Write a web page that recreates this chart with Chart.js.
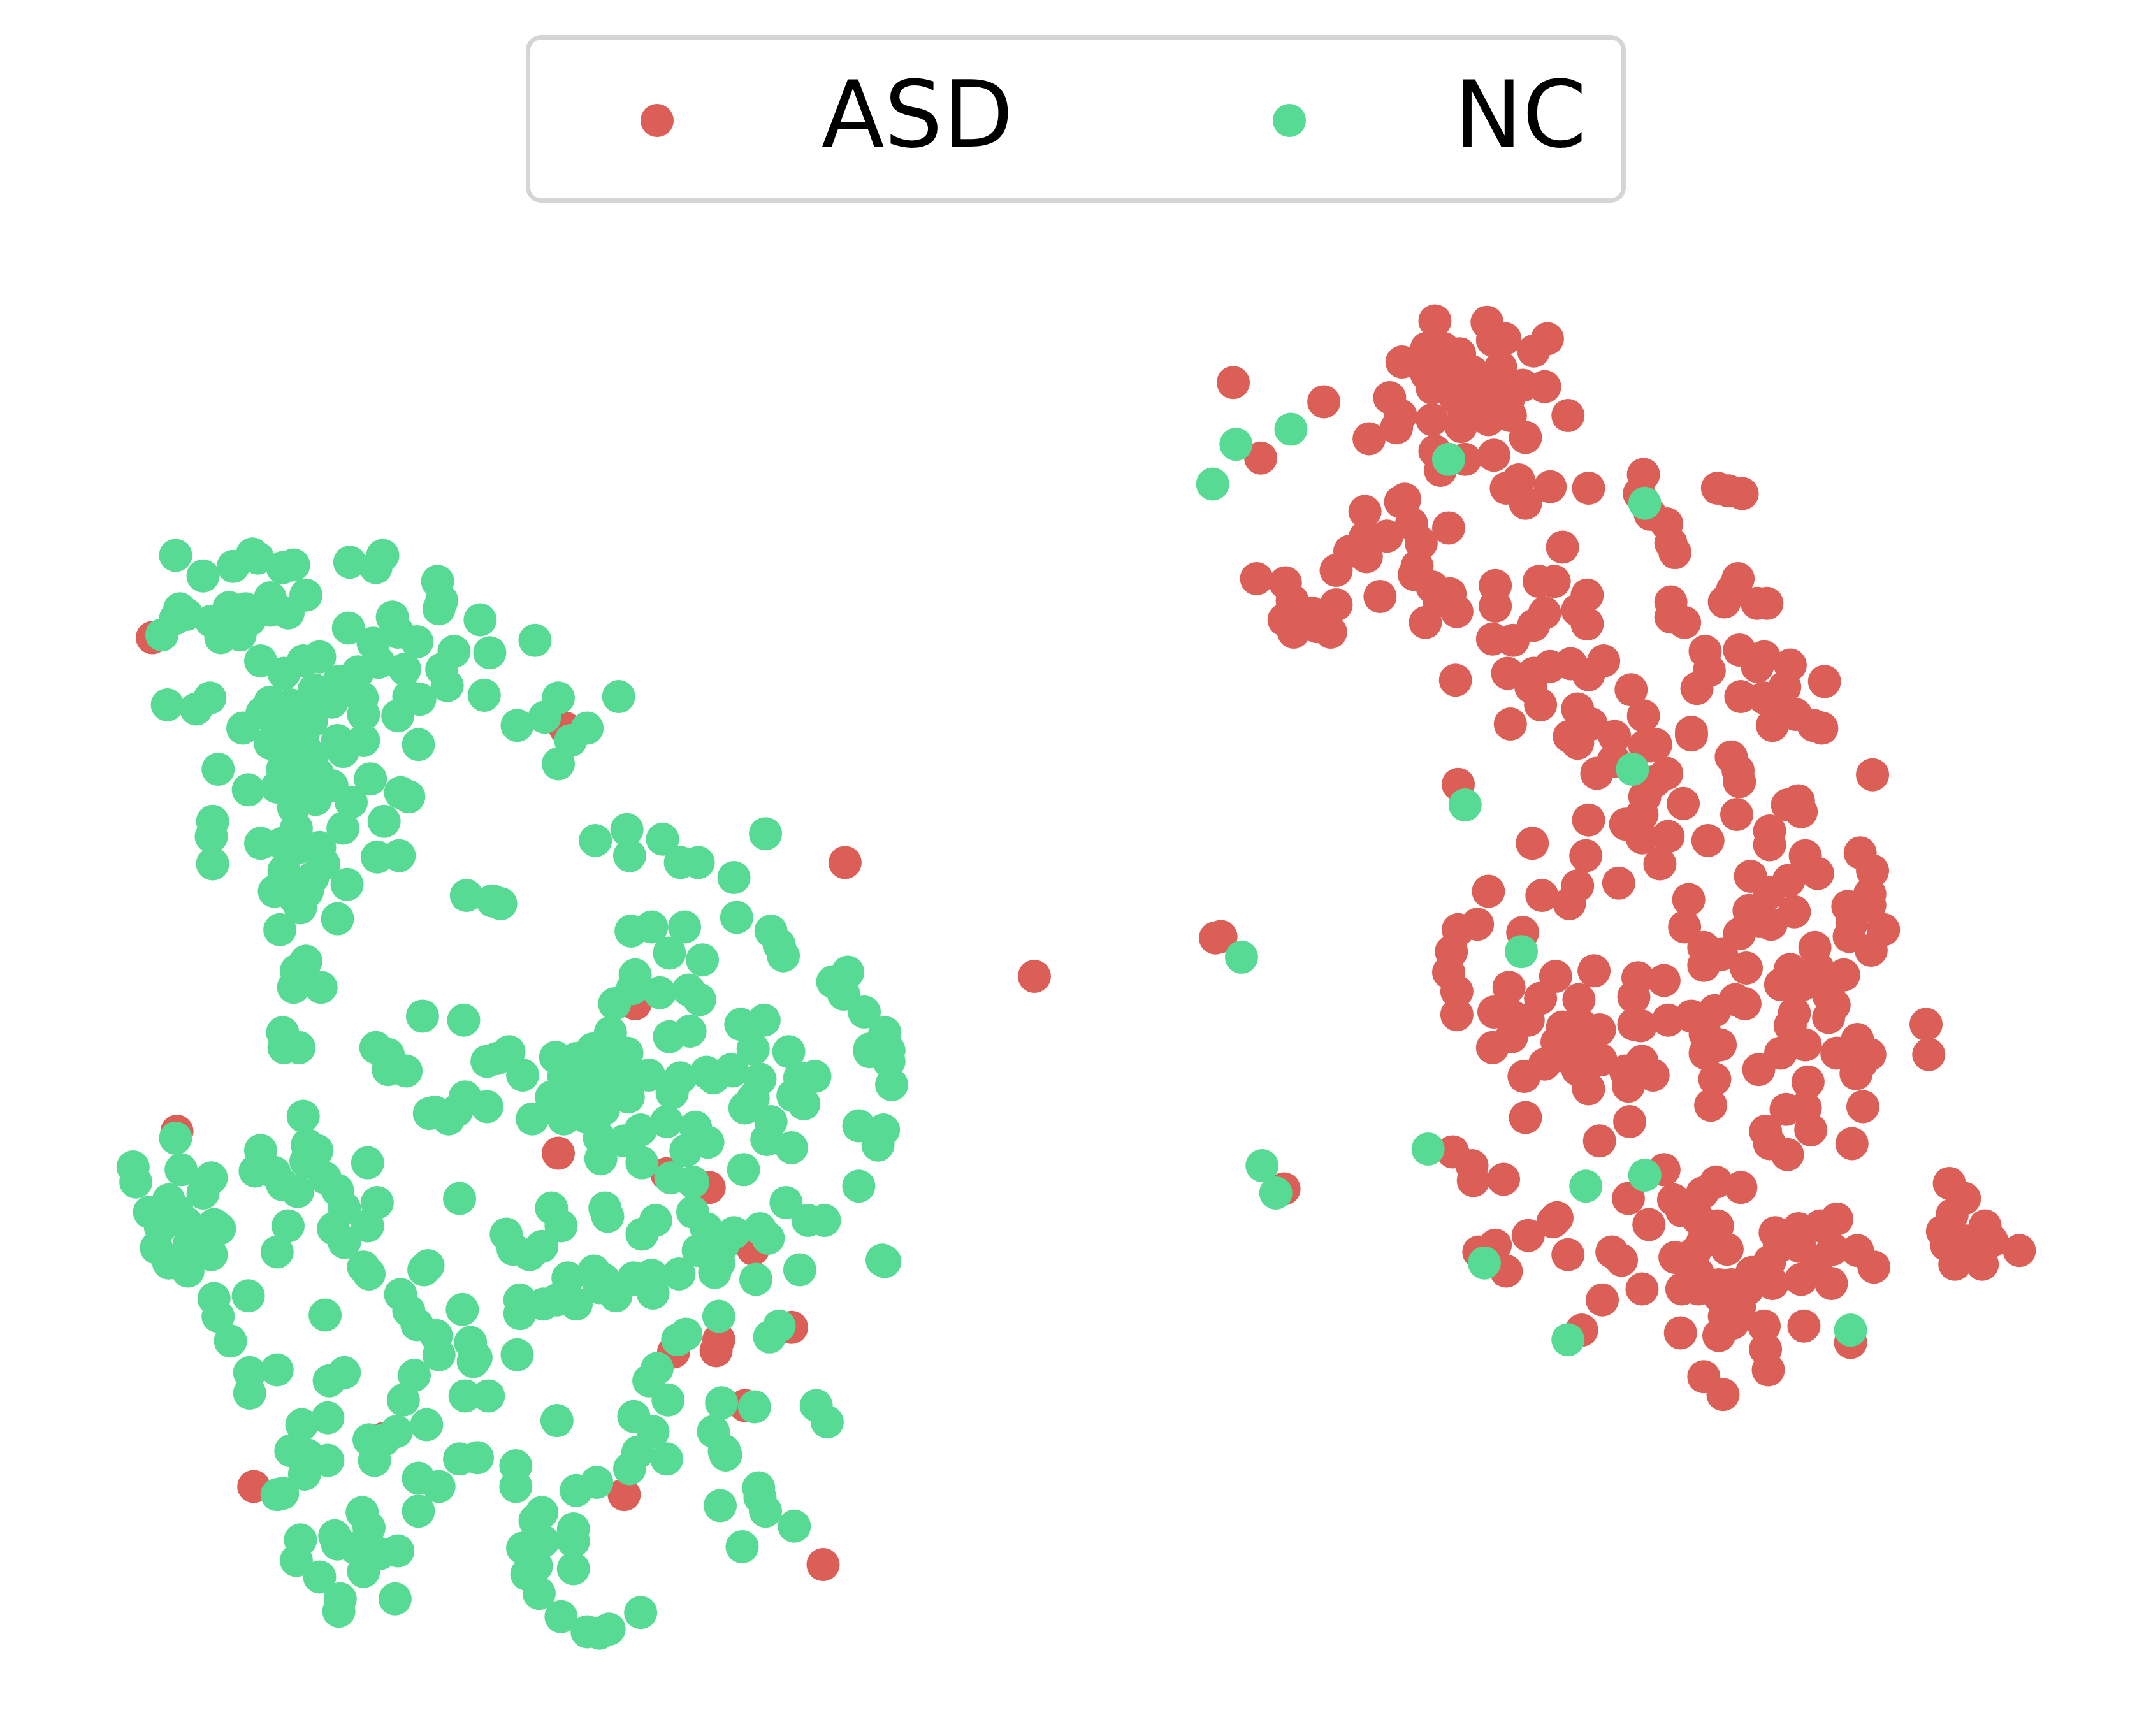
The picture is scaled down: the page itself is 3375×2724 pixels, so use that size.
<!DOCTYPE html>
<html>
<head>
<meta charset="utf-8">
<script src="https://cdn.jsdelivr.net/npm/chart.js@4/dist/chart.umd.min.js"></script>
<style>
  body { margin: 0; background: #fff; }
  #wrap { position: relative; width: 3375px; height: 2724px; }
  #legend { position: absolute; left: 825px; top: 55px; width: 1726px; height: 263px; box-sizing: border-box;
    border: 7px solid #d5d5d5; border-radius: 24px; }
  .mark { position: absolute; width: 52px; height: 52px; border-radius: 50%; top: 163px; }
  .name { position: absolute; top: 108px; font: 144px/145px "DejaVu Sans"; color: #000; }
</style>
</head>
<body>
<div id="wrap">
  <canvas id="embedding" width="3375" height="2724"></canvas>
  <div id="legend"></div>
  <span class="mark" id="mark0" style="left:1005px"></span>
  <span class="name" id="name0" style="left:1289px"></span>
  <span class="mark" id="mark1" style="left:1997px"></span>
  <span class="name" id="name1" style="left:2281px"></span>
</div>
<script>
const seriesNames = ['ASD', 'NC'];
const seriesColors = ['#db5f57', '#57db94'];

// points, [x, y] in image units
const asdStray = [[111,465],[412,531],[129,825],[407,841],[463,732],[486,856],[517,866],[616,629],[754,712],[491,986],
  [522,985],[524,977],[577,968],[543,1025],[549,911],[455,1090],[185,1084],[600,1141],[280,1049],[936,867],
  [890,683],[886,684]];
const asdTop = [[1046,234],[1084,235],[1097,247],[1088,248],[1128,247],[1118,256],[1022,264],[1040,254],[1052,254],[1064,258],
  [1044,264],[1055,266],[1040,273],[1073,271],[1094,268],[1067,278],[1052,280],[1097,278],[1110,281],[1126,282],
  [1044,283],[1085,280],[1061,290],[1079,290],[1100,290],[1143,303],[1013,290],[1021,303],[1018,312],[998,320],
  [1044,306],[1065,311],[1085,306],[1101,303],[1094,297],[1067,299],[1112,319],[1089,332],[1046,329],[1068,335],
  [1050,343],[899,279],[965,293],[919,334],[1024,364],[1021,366],[995,373],[1029,382],[1056,385],[1011,391],
  [1036,396],[995,392],[984,402],[996,406],[974,416],[1033,413],[1031,419],[1044,428],[1057,433],[1049,438],
  [1062,446],[1039,454],[1006,435],[916,422],[937,425],[942,438],[974,441],[936,452],[956,447],[960,457],
  [943,461],[970,461],[949,451],[1090,427],[1090,442],[1122,424],[1133,424],[1157,434],[1150,445],[1157,455],
  [1126,447],[1118,456],[1088,466],[1103,467],[1099,491],[1118,491],[1130,486],[1145,484],[1169,482],[1158,492],
  [1116,501],[1123,514],[1061,496],[1101,528],[1189,503],[1198,522],[1150,517],[1160,528],[1144,537],[1150,542],
  [1177,537],[1207,543],[1199,544],[1233,534],[1177,555],[1164,564],[1215,564],[1206,570],[1199,581],[1227,586],
  [1098,356],[1107,350],[1112,367],[1130,355],[1158,356],[1198,346],[1195,360],[1203,375],[1215,382],[1218,396],
  [1221,403],[1252,356],[1260,358],[1270,360],[1139,399],[1267,422],[1263,430],[1257,439],[1281,440],[1288,440],
  [1218,439],[1218,450],[1228,454],[1243,475],[1246,489],[1237,502],[1268,474],[1286,479],[1281,486],[1305,485],
  [1330,497],[1269,508],[1286,509],[1301,501],[1309,521],[1322,529],[1328,531],[1292,529],[1298,517],[1262,552],
  [1267,562],[1268,570]];
const asdMiddle = [[1176,555],[1203,544],[1233,536],[1365,565],[1063,572],[1197,594],[1185,601],[1158,598],[1216,610],[1197,611],
  [1245,613],[1266,594],[1303,587],[1311,584],[1313,592],[1290,606],[1290,616],[1117,615],[1156,624],[1210,630],
  [1316,624],[1325,637],[1356,622],[1365,635],[1276,639],[1304,642],[1180,644],[1085,650],[1124,653],[1150,646],
  [1144,659],[1290,651],[1363,652],[1363,660],[1231,656],[1275,664],[1308,665],[1347,661],[1291,674],[1348,683],
  [1350,673],[1373,678],[1364,693],[1228,676],[1268,681],[1283,672],[1242,691],[1255,696],[1242,704],[1273,706],
  [1323,691],[1305,707],[1325,706],[1298,718],[1314,718],[1344,711],[1333,726],[1337,733],[1333,742],[1308,739],
  [1305,748],[1063,678],[1077,674],[1058,694],[1056,709],[1062,723],[1062,740],[1110,680],[1134,712],[1162,708],
  [1100,720],[1123,728],[1194,713],[1213,715],[1191,727],[1151,729],[1089,738],[1102,741],[1114,744],[1102,756],
  [1088,764],[1139,749],[1166,751],[1153,748],[1196,748],[1191,747],[1216,744],[1233,741],[1250,737],[1265,729],
  [1272,732],[1243,754],[1254,762],[1243,768],[1250,787],[1247,806],[1126,776],[1147,762],[1153,771],[1167,773],
  [1150,780],[1111,785],[1158,794],[1185,781],[1197,774],[1205,784],[1187,792],[1112,815],[1188,818],[1166,832],
  [1282,780],[1298,768],[1316,762],[1339,768],[1354,758],[1363,769],[1353,783],[1357,775],[1318,789],[1302,809],
  [1316,808],[1320,824],[1358,807],[1287,825],[1290,834],[1303,842],[1350,834],[1404,747],[1406,769],[1140,770],
  [1160,765],[1135,760],[1150,758]];
const asdBottom = [[1059,840],[1073,850],[1074,861],[1096,860],[1135,888],[1132,891],[1114,901],[1090,908],[1078,913],[1098,927],
  [1143,915],[1175,913],[1182,919],[1168,948],[1197,940],[1153,970],[1213,853],[1187,874],[1202,893],[1220,875],
  [1251,862],[1269,866],[1241,870],[1226,883],[1252,894],[1238,889],[1241,906],[1259,911],[1221,917],[1235,914],
  [1238,929],[1226,940],[1238,940],[1253,937],[1294,899],[1311,896],[1327,894],[1339,889],[1354,912],[1366,924],
  [1336,911],[1312,909],[1297,909],[1290,920],[1277,928],[1292,936],[1313,933],[1335,936],[1324,920],[1274,940],
  [1262,937],[1253,945],[1268,953],[1257,960],[1263,965],[1253,974],[1286,967],[1287,984],[1289,999],[1315,967],
  [1349,979],[1225,972],[1242,1004],[1256,1017],[1421,863],[1432,874],[1423,886],[1416,898],[1419,908],[1447,894],
  [1452,905],[1425,922],[1445,922],[1472,912],[1434,905],[1443,914],[1431,914]];

const ncTopLeft = [[128,405],[148,420],[170,413],[184,404],[188,407],[206,414],[214,412],[255,410],[274,414],[279,405],
  [319,424],[322,438],[320,444],[350,452],[390,467],[223,434],[197,436],[197,445],[210,447],[131,444],
  [136,448],[128,451],[118,463],[154,453],[167,443],[179,444],[161,465],[175,463],[182,452],[190,482],
  [254,458],[286,450],[290,461],[304,468],[272,469],[276,483],[295,488],[331,475],[357,476],[322,488],
  [326,500],[353,507],[233,479],[221,482],[207,491],[261,490],[247,497],[229,503],[122,514],[143,517],
  [153,509],[197,512],[191,520],[177,531],[242,512],[264,509],[265,521],[290,522],[298,508],[306,510],
  [377,529],[397,523],[407,509],[451,508],[428,531],[416,540],[407,557],[305,543],[265,540],[246,540],
  [250,548],[221,535],[197,542],[212,514],[218,526],[206,528],[227,526],[215,542],[227,552],[206,561],
  [159,561],[181,576],[202,574],[227,559],[215,573],[230,583],[242,573],[256,585],[270,568],[292,578],
  [298,581],[214,589],[280,599],[250,604],[216,604],[155,599],[154,610],[155,630],[190,615],[206,615],
  [233,618],[218,618],[236,630],[207,635],[275,625],[291,624],[253,645],[200,650],[212,647],[224,650],
  [219,662],[246,670],[204,678],[340,653],[359,657],[365,659],[223,701],[216,708],[214,720],[234,720],
  [222,545],[232,565],[215,558],[222,580],[235,575],[208,550],[215,655],[228,640]];
const ncCentre = [[434,613],[457,605],[459,624],[483,612],[496,629],[509,629],[535,640],[558,608],[460,679],[475,676],
  [499,676],[488,695],[512,700],[537,669],[562,679],[568,689],[571,697],[463,711],[461,721],[481,724],
  [502,722],[510,729],[448,732],[445,753],[457,768],[488,756],[503,752],[618,709],[607,716],[615,725],
  [630,738],[645,753],[634,765],[648,766],[648,774],[634,767],[650,791],[626,821],[644,824],[640,835],
  [626,865],[645,920],[643,919],[583,926],[551,933],[601,890],[589,890],[573,877],[542,853],[577,837],
  [559,831],[562,818],[543,808],[549,801],[578,799],[586,805],[583,786],[594,785],[575,767],[549,765],
  [554,787],[557,744],[540,747],[533,780],[520,786],[515,782],[496,786],[490,797],[486,818],[507,822],
  [516,833],[500,839],[489,859],[505,862],[505,884],[515,896],[535,899],[554,896],[560,903],[527,908],
  [509,912],[524,921],[521,928],[495,929],[475,930],[476,943],[462,932],[415,790],[430,780],[445,800],
  [430,800],[440,770],[408,805],[420,805],[450,785],[455,775],[420,780],[435,810]];
const ncLowerLeft = [[308,741],[338,744],[206,753],[207,764],[218,764],[274,764],[283,769],[283,780],[296,781],[355,774],
  [362,772],[371,767],[381,784],[405,771],[420,772],[432,765],[473,784],[534,781],[446,782],[425,782],
  [411,785],[402,800],[420,797],[440,791],[458,800],[388,816],[411,816],[428,815],[440,809],[467,824],
  [437,830],[455,832],[438,845],[468,848],[221,814],[313,812],[317,811],[327,816],[333,810],[339,800],
  [355,807],[128,830],[224,835],[231,839],[190,839],[186,854],[200,855],[223,847],[132,853],[154,859],
  [148,870],[97,851],[99,862],[268,848],[237,859],[217,869],[206,864],[246,868],[251,881],[275,877],
  [210,894],[202,913],[243,896],[268,894],[251,906],[335,874],[123,875],[109,884],[156,893],[160,896],
  [117,895],[114,910],[136,892],[138,907],[123,921],[154,915],[137,927],[129,883],[147,904],[265,924],
  [269,929],[312,923],[309,926],[156,947],[159,960],[168,978],[181,945],[237,959],[292,944],[298,956],
  [304,966],[318,974],[320,988],[337,955],[343,979],[347,990],[345,993],[377,988],[182,1001],[202,999],
  [182,1016],[240,1007],[251,1001],[302,1003],[294,1021],[339,1018],[356,1018],[379,948],[379,958],[396,951],
  [406,948],[414,932],[433,927],[440,933],[449,945],[462,933],[437,939],[420,951],[369,900],[374,911],
  [386,915],[395,909],[402,881],[409,894],[441,881],[443,887],[468,900],[478,890],[516,898],[523,915]];
const ncBottom = [[524,960],[494,977],[479,998],[473,1007],[487,1021],[526,1023],[462,1033],[476,1044],[465,1059],[486,1064],
  [459,1071],[520,1044],[528,1058],[529,1061],[525,1098],[541,1128],[406,1036],[435,1081],[420,1087],[376,1069],
  [376,1084],[348,1063],[335,1064],[311,1039],[289,1044],[280,1050],[269,1050],[273,1065],[305,1078],[320,1084],
  [305,1102],[220,1039],[239,1034],[212,1058],[224,1061],[239,1065],[222,1075],[206,1089],[202,1090],[264,1103],
  [269,1114],[219,1123],[216,1138],[244,1120],[246,1126],[259,1129],[267,1126],[290,1131],[277,1133],[265,1146],
  [233,1150],[248,1166],[247,1175],[288,1166],[395,1103],[390,1109],[418,1115],[418,1124],[381,1129],[396,1124],
  [418,1144],[384,1148],[391,1142],[393,1162],[409,1179],[428,1190],[437,1191],[444,1188],[467,1176],[561,975],
  [568,967],[550,1026],[595,1025],[603,1037],[553,1085],[554,1092],[558,1102],[579,1113],[500,973]];
const ncStray = [[901,324],[941,313],[884,353],[1056,335],[1199,367],[1190,561],[1068,587],[1109,694],[905,698],[920,850],
  [930,870],[1041,838],[1156,865],[1199,857],[1082,921],[1143,977],[1349,970]];

const asdPoints = [...asdStray, ...asdTop, ...asdMiddle, ...asdBottom];
const ncPoints = [...ncTopLeft, ...ncCentre, ...ncLowerLeft, ...ncBottom, ...ncStray];

seriesNames.forEach(function(name, i) {
  document.getElementById('name' + i).textContent = name;
  document.getElementById('mark' + i).style.background = seriesColors[i];
});

function toXY(pts) {
  return pts.map(function(p) { return { x: p[0], y: p[1] }; });
}

new Chart(document.getElementById('embedding').getContext('2d'), {
  type: 'scatter',
  data: {
    datasets: [{
      label: seriesNames[0],
      data: toXY(asdPoints),
      backgroundColor: seriesColors[0],
      pointRadius: 26,
      borderWidth: 0,
      order: 2
    }, {
      label: seriesNames[1],
      data: toXY(ncPoints),
      backgroundColor: seriesColors[1],
      pointRadius: 26,
      borderWidth: 0,
      order: 1
    }]
  },
  options: {
    responsive: false,
    animation: false,
    layout: { padding: 0, autoPadding: false },
    scales: {
      x: { type: 'linear', display: false, min: 0, max: 1568 },
      y: { type: 'linear', display: false, min: 0, max: 1266, reverse: true }
    },
    plugins: {
      legend: { display: false },
      tooltip: { enabled: false }
    }
  }
});
</script>
</body>
</html>
